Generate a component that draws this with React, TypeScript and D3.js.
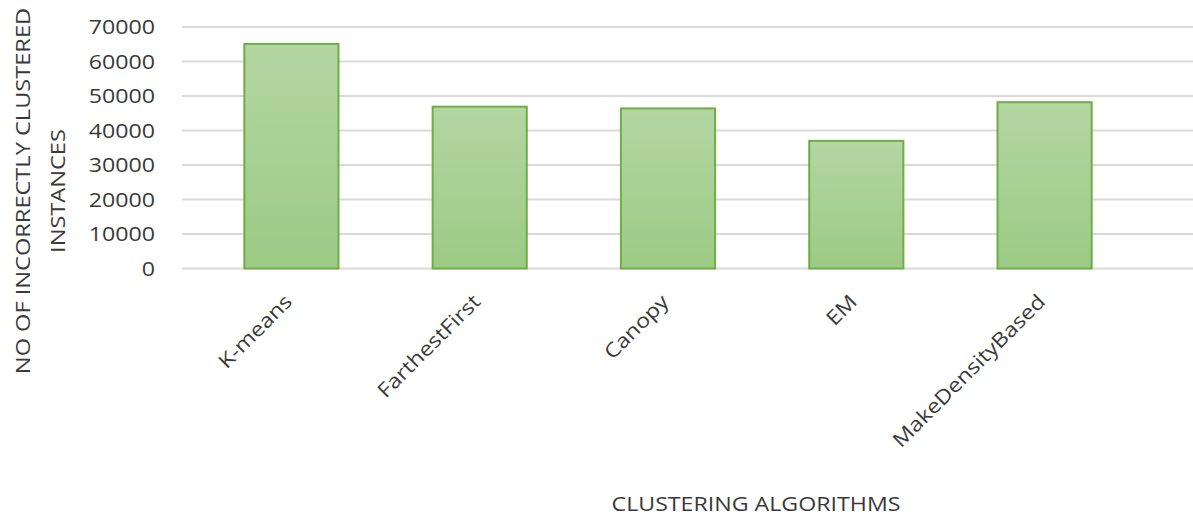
import React from 'react';
import * as d3 from 'd3';

const categories = ['K-means', 'FarthestFirst', 'Canopy', 'EM', 'MakeDensityBased'];
const values = [65100, 46900, 46400, 37000, 48200];
const yTicks = [0, 10000, 20000, 30000, 40000, 50000, 60000, 70000];
const yTitleLines = ['NO OF INCORRECTLY CLUSTERED', 'INSTANCES'];
const xTitle = 'CLUSTERING ALGORITHMS';

const W = 1193;
const H = 516;
const FONT = "'Open Sans', 'Noto Sans', sans-serif";
const TEXT = '#3a3a3a';
const SX = 1.16;

export default function App() {
  const x = d3.scaleBand<string>().domain(categories).range([197.25, 1138.75]).paddingInner(0.5).paddingOuter(0.25);
  const y = d3.scaleLinear().domain([0, 70000]).range([268.5, 27]);
  const gridX0 = 182;
  const gridX1 = W;

  return (
    <svg width={W} height={H} style={{ position: 'absolute', left: 0, top: 0, background: '#fff' }}>
      <defs>
        <linearGradient id="barGrad" x1="0" y1="0" x2="0" y2="1">
          <stop offset="0" stopColor="#b3d6a3" />
          <stop offset="1" stopColor="#9ccb85" />
        </linearGradient>
      </defs>
      <rect x={0} y={0} width={W} height={H} fill="#fff" />
      {yTicks.map((t) => (
        <g key={t}>
          <line x1={gridX0} x2={gridX1} y1={y(t)} y2={y(t)} stroke="#d9d9d9" strokeWidth={2} />
          <text
            transform={`translate(155,${y(t)}) scale(${SX},1)`}
            dy="0.36em"
            textAnchor="end"
            fontFamily={FONT}
            fontSize={20}
            fill={TEXT}
          >
            {t}
          </text>
        </g>
      ))}
      {categories.map((c, i) => (
        <rect
          key={c}
          x={x(c)}
          y={y(values[i])}
          width={x.bandwidth()}
          height={y(0) - y(values[i])}
          fill="url(#barGrad)"
          stroke="#70ad47"
          strokeWidth={2}
        />
      ))}
      {categories.map((c) => {
        const cx = (x(c) as number) + x.bandwidth() / 2 + 2;
        const cy = 303;
        return (
          <text
            key={c}
            transform={`translate(${cx},${cy}) rotate(-45) scale(${SX},1)`}
            textAnchor="end"
            fontFamily={FONT}
            fontSize={20}
            fill={TEXT}
          >
            {c}
          </text>
        );
      })}
      {yTitleLines.map((l, i) => (
        <text
          key={l}
          transform={`translate(${30 + i * 35},191) rotate(-90) scale(${SX + 0.02},1)`}
          textAnchor="middle"
          fontFamily={FONT}
          fontSize={20}
          fill={TEXT}
        >
          {l}
        </text>
      ))}
      <text
        transform={`translate(756,511) scale(${SX},1)`}
        textAnchor="middle"
        fontFamily={FONT}
        fontSize={20}
        fill={TEXT}
      >
        {xTitle}
      </text>
    </svg>
  );
}
